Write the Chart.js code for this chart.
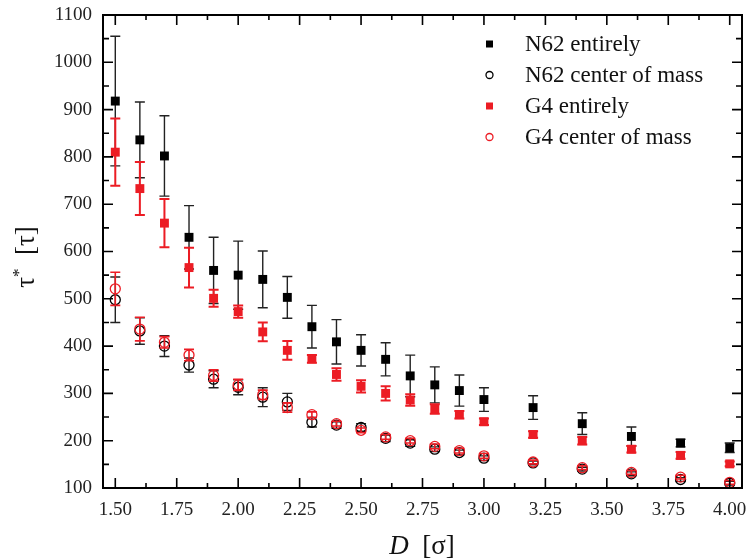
<!DOCTYPE html>
<html>
<head>
<meta charset="utf-8">
<script src="https://cdn.jsdelivr.net/npm/chart.js@4.4.1/dist/chart.umd.min.js"></script>
<style>
  html, body { margin: 0; padding: 0; background: #fff; }
  #wrap { width: 750px; height: 560px; }
</style>
</head>
<body>
<div id="wrap"><canvas id="tauChart"></canvas></div>
<script>
// pore diameter D [sigma]
const D = [1.5, 1.6, 1.7, 1.8, 1.9, 2.0, 2.1, 2.2, 2.3, 2.4, 2.5, 2.6, 2.7, 2.8, 2.9, 3.0, 3.2, 3.4, 3.6, 3.8, 4.0];

const n62Entire    = [918, 836, 802, 630, 560, 550, 541, 503, 441, 409, 391, 372, 337, 318, 306, 287, 270, 236, 209, 195, 185];
const n62EntireErr = [137, 80, 85, 67, 70, 72, 60, 44, 45, 47, 33, 35, 44, 38, 33, 25, 25, 23, 20, 8, 10];
const n62Com       = [498, 432, 400, 360, 330, 313, 292, 282, 239, 233, 228, 205, 195, 182, 175, 163, 153, 140, 130, 118, 110];
const n62ComErr    = [48, 28, 22, 15, 18, 16, 20, 18, 10, 7, 8, 7, 7, 5, 5, 5, 4, 4, 4, 4, 4];
const g4Entire     = [810, 733, 660, 566, 501, 473, 430, 391, 373, 340, 315, 300, 286, 267, 255, 240, 213, 200, 182, 169, 151];
const g4EntireErr  = [71, 56, 51, 42, 18, 13, 20, 20, 8, 13, 13, 15, 12, 10, 8, 7, 7, 8, 7, 7, 5];
const g4Com        = [521, 436, 408, 381, 338, 318, 297, 270, 255, 236, 222, 208, 200, 188, 179, 168, 155, 143, 133, 123, 112];
const g4ComErr     = [35, 25, 12, 12, 12, 12, 10, 10, 6, 5, 5, 5, 5, 5, 5, 5, 4, 4, 4, 4, 4];

const xTicks = [1.5, 1.75, 2.0, 2.25, 2.5, 2.75, 3.0, 3.25, 3.5, 3.75, 4.0];
const yTicks = [100, 200, 300, 400, 500, 600, 700, 800, 900, 1000, 1100];

const RED = '#ec1c24';
const SERIF = '"Liberation Serif", "Times New Roman", serif';

const pts = (ys) => D.map((x, i) => ({ x: x, y: ys[i] }));

// vertical error bars, drawn just under each dataset's markers
const errorBars = {
  id: 'errorBars',
  beforeDatasetDraw(chart, args) {
    const ds = chart.data.datasets[args.index];
    if (!ds.err) return;
    const ctx = chart.ctx, xs = chart.scales.x, ys = chart.scales.y;
    ctx.save();
    ctx.strokeStyle = ds.errColor;
    ctx.lineWidth = ds.errWidth;
    ds.data.forEach((p, i) => {
      const px = xs.getPixelForValue(p.x);
      const top = ys.getPixelForValue(p.y + ds.err[i]);
      const bot = ys.getPixelForValue(p.y - ds.err[i]);
      ctx.beginPath();
      ctx.moveTo(px, top); ctx.lineTo(px, bot);
      ctx.moveTo(px - 5, top); ctx.lineTo(px + 5, top);
      ctx.moveTo(px - 5, bot); ctx.lineTo(px + 5, bot);
      ctx.stroke();
    });
    ctx.restore();
  }
};

// box frame with inward major/minor ticks on all four sides
const frame = {
  id: 'frame',
  afterDraw(chart) {
    const { ctx, chartArea: a } = chart;
    const xs = chart.scales.x, ys = chart.scales.y;
    ctx.save();
    ctx.strokeStyle = '#000';
    ctx.lineWidth = 2;
    ctx.strokeRect(a.left, a.top, a.right - a.left, a.bottom - a.top);
    ctx.lineWidth = 1.6;
    ctx.beginPath();
    xTicks.forEach((v, i) => {
      const px = xs.getPixelForValue(v);
      ctx.moveTo(px, a.bottom); ctx.lineTo(px, a.bottom - 10);
      ctx.moveTo(px, a.top); ctx.lineTo(px, a.top + 10);
      if (i < xTicks.length - 1) {
        const mx = xs.getPixelForValue((v + xTicks[i + 1]) / 2);
        ctx.moveTo(mx, a.bottom); ctx.lineTo(mx, a.bottom - 5);
        ctx.moveTo(mx, a.top); ctx.lineTo(mx, a.top + 5);
      }
    });
    yTicks.forEach((v, i) => {
      const py = ys.getPixelForValue(v);
      ctx.moveTo(a.left, py); ctx.lineTo(a.left + 10, py);
      ctx.moveTo(a.right, py); ctx.lineTo(a.right - 10, py);
      if (i < yTicks.length - 1) {
        const my = ys.getPixelForValue((v + yTicks[i + 1]) / 2);
        ctx.moveTo(a.left, my); ctx.lineTo(a.left + 6, my);
        ctx.moveTo(a.right, my); ctx.lineTo(a.right - 6, my);
      }
    });
    ctx.stroke();
    ctx.restore();
  }
};

// axis titles with italic D and superscript star
const titles = {
  id: 'titles',
  afterDraw(chart) {
    const ctx = chart.ctx;
    ctx.save();
    ctx.fillStyle = '#111';
    ctx.textBaseline = 'alphabetic';
    // x title
    ctx.font = 'italic 27px ' + SERIF;
    const wD = ctx.measureText('D').width;
    ctx.font = '27px ' + SERIF;
    const wRest = ctx.measureText('  [σ]').width;
    let x0 = 422 - (wD + wRest) / 2;
    ctx.font = 'italic 27px ' + SERIF;
    ctx.fillText('D', x0, 554);
    ctx.font = '27px ' + SERIF;
    ctx.fillText('  [σ]', x0 + wD, 554);
    // y title
    ctx.translate(34, 257);
    ctx.rotate(-Math.PI / 2);
    ctx.font = '27px ' + SERIF;
    const wT = ctx.measureText('τ').width;
    ctx.font = '17px ' + SERIF;
    const wS = ctx.measureText('*').width;
    ctx.font = '27px ' + SERIF;
    const wB = ctx.measureText('  [τ]').width;
    let s = -(wT + wS + wB) / 2;
    ctx.fillText('τ', s, 0);
    ctx.font = '17px ' + SERIF;
    ctx.fillText('*', s + wT, -10);
    ctx.font = '27px ' + SERIF;
    ctx.fillText('  [τ]', s + wT + wS, 0);
    ctx.restore();
  }
};

// legend inside the plot, top right
const insideLegend = {
  id: 'insideLegend',
  afterDraw(chart) {
    const ctx = chart.ctx;
    const rows = [
      { label: 'N62 entirely', color: '#000', filled: true },
      { label: 'N62 center of mass', color: '#000', filled: false },
      { label: 'G4 entirely', color: RED, filled: true },
      { label: 'G4 center of mass', color: RED, filled: false }
    ];
    ctx.save();
    ctx.font = '23px ' + SERIF;
    ctx.textBaseline = 'middle';
    rows.forEach((r, i) => {
      const y = 44 + i * 31;
      if (r.filled) {
        ctx.fillStyle = r.color;
        ctx.fillRect(486, y - 3.5, 7, 7);
      } else {
        ctx.strokeStyle = r.color;
        ctx.lineWidth = 1.3;
        ctx.beginPath();
        ctx.arc(489.5, y, 3.5, 0, Math.PI * 2);
        ctx.stroke();
      }
      ctx.fillStyle = '#111';
      ctx.fillText(r.label, 525, y + 1);
    });
    ctx.restore();
  }
};

new Chart(document.getElementById('tauChart'), {
  type: 'scatter',
  data: {
    datasets: [
      { label: 'N62 entirely', data: pts(n62Entire), err: n62EntireErr, errColor: '#222', errWidth: 1.4,
        pointStyle: 'rect', pointRadius: 6.3, backgroundColor: '#000', borderColor: '#000', borderWidth: 0, order: 4 },
      { label: 'N62 center of mass', data: pts(n62Com), err: n62ComErr, errColor: '#222', errWidth: 1.4,
        pointStyle: 'circle', pointRadius: 5, backgroundColor: 'rgba(0,0,0,0)', borderColor: '#000', borderWidth: 1.3, order: 3 },
      { label: 'G4 entirely', data: pts(g4Entire), err: g4EntireErr, errColor: RED, errWidth: 2,
        pointStyle: 'rect', pointRadius: 6.3, backgroundColor: RED, borderColor: RED, borderWidth: 0, order: 2 },
      { label: 'G4 center of mass', data: pts(g4Com), err: g4ComErr, errColor: RED, errWidth: 1.6,
        pointStyle: 'circle', pointRadius: 5, backgroundColor: 'rgba(0,0,0,0)', borderColor: RED, borderWidth: 1.3, order: 1 }
    ]
  },
  options: {
    responsive: true,
    maintainAspectRatio: false,
    animation: false,
    layout: { padding: { top: 15, right: 8, left: 0, bottom: 0 } },
    plugins: { legend: { display: false }, tooltip: { enabled: false } },
    scales: {
      x: {
        type: 'linear', min: 1.45, max: 4.05,
        afterBuildTicks: (s) => { s.ticks = xTicks.map(v => ({ value: v })); },
        afterFit: (s) => { s.height = 72; s.paddingLeft = 0; s.paddingRight = 0; },
        grid: { display: false, drawTicks: false },
        border: { display: false },
        ticks: { padding: 11, color: '#222', font: { family: SERIF, size: 19 }, callback: (v) => v.toFixed(2) }
      },
      y: {
        type: 'linear', min: 100, max: 1100,
        afterBuildTicks: (s) => { s.ticks = yTicks.map(v => ({ value: v })); },
        afterFit: (s) => { s.width = 103; s.paddingTop = 0; s.paddingBottom = 0; },
        grid: { display: false, drawTicks: false },
        border: { display: false },
        ticks: { padding: 11, color: '#222', font: { family: SERIF, size: 19 }, callback: (v) => String(v) }
      }
    }
  },
  plugins: [errorBars, frame, titles, insideLegend]
});
</script>
</body>
</html>
